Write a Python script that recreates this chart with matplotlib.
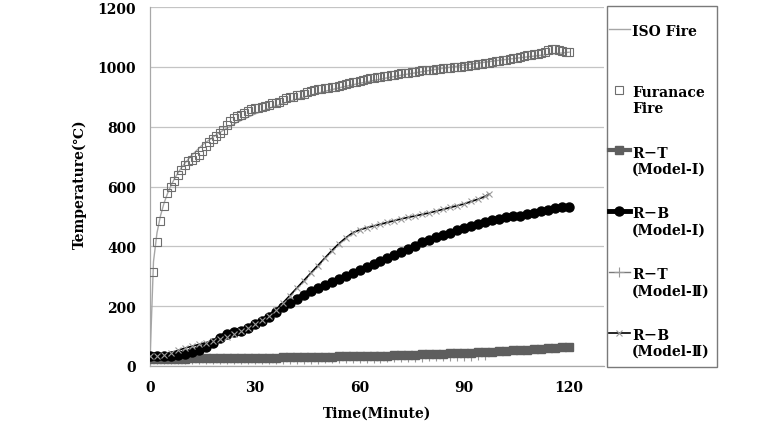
import matplotlib
matplotlib.use('Agg')
import matplotlib.pyplot as plt
from matplotlib.patches import Rectangle

plt.rcParams['font.family'] = ['DejaVu Serif', 'Noto Sans CJK KR']
plt.rcParams['font.weight'] = 'bold'

# ISO 834 standard curve
iso_t = [0, 1, 2, 3, 4, 5, 6, 7, 8, 9, 10, 12, 15, 20, 25, 30, 35, 40, 45, 50,
         55, 60, 70, 80, 90, 100, 110, 120]
iso_T = [20, 349, 445, 502, 544, 576, 603, 626, 645, 663, 678, 705, 739, 781,
         815, 842, 865, 885, 902, 918, 932, 945, 968, 988, 1006, 1022, 1036, 1049]

# furnace record, one reading per minute 0..120
furnace_t = list(range(0, 121))
furnace_T = [35, 315, 415, 486, 536, 578, 600, 620, 640, 655,
             672, 684, 690, 700, 705, 718, 735, 750, 758, 768,
             778, 790, 805, 818, 828, 835, 840, 845, 852, 858,
             862, 864, 866, 870, 874, 878, 880, 884, 890, 895,
             898, 900, 905, 906, 910, 915, 918, 922, 925, 926,
             928, 930, 932, 934, 936, 940, 944, 946, 948, 950,
             953, 956, 960, 962, 962, 965, 966, 968, 970, 972,
             974, 976, 978, 979, 980, 982, 984, 986, 988, 989,
             990, 991, 992, 994, 995, 996, 997, 999, 1000, 1001,
             1002, 1004, 1005, 1006, 1008, 1010, 1012, 1014, 1016, 1018,
             1020, 1022, 1024, 1026, 1028, 1030, 1032, 1035, 1038, 1040,
             1042, 1044, 1046, 1050, 1055, 1060, 1058, 1055, 1052, 1050,
             1050]

# Model-I, every 2 minutes 0..120
m1_t = list(range(0, 121, 2))
rt1_T = [25, 25, 25, 25, 25, 25, 26, 26, 26, 26,
         26, 26, 27, 27, 27, 27, 28, 28, 28, 29,
         29, 29, 30, 30, 31, 31, 31, 32, 32, 33,
         33, 34, 34, 35, 35, 36, 37, 37, 38, 39,
         40, 40, 41, 42, 43, 44, 45, 46, 47, 48,
         49, 50, 52, 53, 54, 56, 57, 59, 60, 62,
         64]
rb1_T = [32, 32, 33, 34, 36, 40, 46, 53, 62, 78,
         95, 108, 113, 118, 128, 140, 152, 165, 180, 197,
         212, 225, 238, 250, 260, 270, 281, 291, 301, 311,
         321, 331, 340, 350, 360, 370, 380, 390, 400, 413,
         422, 430, 438, 446, 454, 462, 469, 475, 481, 487,
         492, 497, 500, 503, 508, 513, 518, 522, 527, 531,
         533]

# Model-II, every 2 minutes 0..96 (+97 for R-B)
m2_t = list(range(0, 97, 2))
rt2_T = [22, 22, 22, 22, 22, 22, 22, 22, 22, 23,
         23, 23, 23, 23, 23, 23, 24, 24, 24, 24,
         24, 25, 25, 25, 25, 26, 26, 26, 27, 27,
         27, 28, 28, 28, 29, 29, 30, 30, 31, 31,
         32, 32, 33, 33, 34, 34, 35, 36, 37]
rb2_t = m2_t + [97]
rb2_T = [33, 35, 38, 44, 52, 60, 66, 72, 78, 84,
         90, 98, 108, 118, 128, 140, 153, 168, 188, 210,
         235, 260, 285, 310, 335, 360, 385, 408, 428, 445,
         455, 462, 468, 474, 480, 486, 492, 497, 502, 507,
         512, 518, 524, 530, 536, 542, 550, 558, 567, 575]

labels = ['ISO Fire\n', 'Furanace\nFire', 'R－T\n(Model-Ⅰ)', 'R－B\n(Model-Ⅰ)',
          'R－T\n(Model-Ⅱ)', 'R－B\n(Model-Ⅱ)']

fig = plt.figure(figsize=(7.65, 4.35), dpi=100)
ax = fig.add_axes([150 / 765, 68 / 435, 454 / 765, 359 / 435])

ax.plot(iso_t, iso_T, color='#a6a6a6', lw=1.0, label=labels[0], zorder=3)
ax.plot(furnace_t, furnace_T, ls='none', marker='s', ms=5.5, mfc='none',
        mec='#6e6e6e', mew=0.8, label=labels[1], zorder=4)
ax.plot(m1_t, rt1_T, color='#5e5e5e', lw=3, marker='s', ms=5.5,
        label=labels[2], zorder=5)
ax.plot(m1_t, rb1_T, color='black', lw=3.5, marker='o', ms=6.5,
        label=labels[3], zorder=6)
ax.plot(m2_t, rt2_T, color='#7a7a7a', lw=1, marker='+', ms=7, mew=0.8,
        mec='#9a9a9a', label=labels[4], zorder=4)
ax.plot(rb2_t, rb2_T, color='black', lw=1.2, marker='x', ms=5, mew=0.8,
        mec='#9a9a9a', label=labels[5], zorder=7)

ax.set_xlim(0, 130)
ax.set_ylim(0, 1200)
ax.set_xticks([0, 30, 60, 90, 120])
ax.set_yticks(range(0, 1201, 200))
ax.tick_params(length=0, labelsize=10, pad=10)
ax.grid(axis='y', color='#c4c4c4', lw=0.9)
ax.set_axisbelow(True)
for s in ['top', 'right']:
    ax.spines[s].set_visible(False)
for s in ['left', 'bottom']:
    ax.spines[s].set_color('#a8a8a8')
    ax.spines[s].set_linewidth(0.9)

ax.set_xlabel('Time(Minute)', fontsize=10, fontweight='bold')
ax.set_ylabel('Temperature(℃)', fontsize=10, fontweight='bold')
ax.xaxis.set_label_coords(0.5, -0.11)
ax.yaxis.set_label_coords(-0.14, 0.51)

# legend without its own frame; the box is drawn separately
lgd = fig.legend(loc='upper left', bbox_to_anchor=(609 / 765, 410 / 435),
                 frameon=False, borderpad=0, labelspacing=2.2,
                 handlelength=1.5, handletextpad=0.15, borderaxespad=0,
                 prop={'weight': 'bold', 'size': 10})
# handles next to the first text line, as in the original
for col in lgd._legend_handle_box.get_children():
    for row in col.get_children():
        row.align = 'top'
fig.add_artist(Rectangle((607 / 765, 67 / 435), 110 / 765, 361 / 435,
                         transform=fig.transFigure, fill=False,
                         edgecolor='#7a7a7a', lw=1.0))

plt.savefig('out.png', dpi=100)
